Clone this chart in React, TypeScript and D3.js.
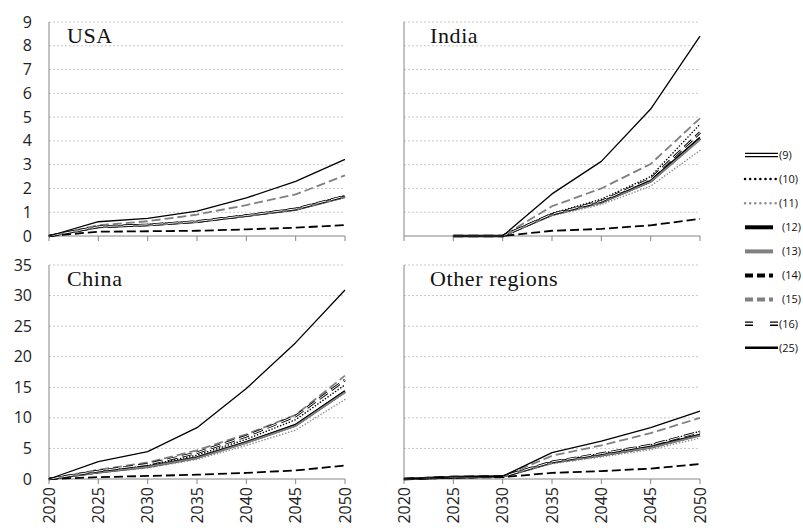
import React from 'react';
import * as d3 from 'd3';

const years = [2020, 2025, 2030, 2035, 2040, 2045, 2050];
const seriesNames = ['(9)', '(10)', '(11)', '(12)', '(13)', '(14)', '(15)', '(16)', '(25)'];
const regionNames = ['USA', 'India', 'China', 'Other regions'];
const topTicks = [0, 1, 2, 3, 4, 5, 6, 7, 8, 9];
const bottomTicks = [0, 5, 10, 15, 20, 25, 30, 35];

// rows follow seriesNames order
const usa = [
  [0, 0.38, 0.46, 0.6, 0.85, 1.12, 1.65],
  [0, 0.4, 0.48, 0.62, 0.87, 1.15, 1.7],
  [0, 0.36, 0.44, 0.58, 0.83, 1.1, 1.62],
  [0, 0.38, 0.46, 0.6, 0.85, 1.13, 1.66],
  [0, 0.37, 0.45, 0.6, 0.85, 1.12, 1.64],
  [0, 0.18, 0.2, 0.22, 0.28, 0.35, 0.46],
  [0, 0.45, 0.62, 0.9, 1.3, 1.75, 2.55],
  [0, 0.39, 0.47, 0.61, 0.86, 1.14, 1.68],
  [0, 0.6, 0.74, 1.05, 1.6, 2.3, 3.22],
];
const india = [
  [null, 0, 0, 0.9, 1.42, 2.3, 4.1],
  [null, 0, 0, 0.95, 1.55, 2.5, 4.7],
  [null, 0, 0, 0.85, 1.32, 2.1, 3.6],
  [null, 0, 0, 0.9, 1.42, 2.32, 4.15],
  [null, 0, 0, 0.88, 1.4, 2.28, 4.05],
  [null, 0, 0, 0.22, 0.3, 0.45, 0.72],
  [null, 0, 0, 1.25, 2.0, 3.03, 4.95],
  [null, 0, 0, 0.92, 1.46, 2.4, 4.35],
  [null, 0, 0, 1.77, 3.14, 5.34, 8.41],
];
const china = [
  [0, 1.1, 2.0, 3.5, 6.0, 8.8, 14.3],
  [0, 1.2, 2.2, 3.9, 6.5, 9.7, 15.4],
  [0, 1.0, 1.8, 3.2, 5.5, 8.0, 13.0],
  [0, 1.1, 2.0, 3.5, 6.0, 8.9, 14.4],
  [0, 1.1, 2.0, 3.4, 5.9, 8.7, 14.2],
  [0, 0.3, 0.5, 0.7, 1.0, 1.4, 2.2],
  [0, 1.5, 2.7, 4.7, 7.3, 10.5, 16.9],
  [0, 1.3, 2.4, 4.3, 7.0, 10.3, 16.2],
  [0, 2.83, 4.47, 8.4, 14.8, 22.3, 30.9],
];
const other = [
  [0, 0.3, 0.4, 2.7, 3.9, 5.2, 7.2],
  [0, 0.32, 0.42, 2.8, 4.2, 5.6, 7.8],
  [0, 0.28, 0.38, 2.5, 3.6, 4.8, 6.7],
  [0, 0.3, 0.4, 2.7, 3.95, 5.25, 7.25],
  [0, 0.3, 0.4, 2.65, 3.85, 5.15, 7.1],
  [0, 0.2, 0.3, 1.0, 1.3, 1.7, 2.45],
  [0, 0.33, 0.43, 3.8, 5.5, 7.5, 10.0],
  [0, 0.31, 0.41, 2.8, 4.15, 5.55, 7.7],
  [0, 0.35, 0.45, 4.3, 6.2, 8.4, 11.1],
];

const GRAY = '#808080';
const AXIS = '#868686';
const LABEL_FONT = '"Open Sans", "Liberation Sans", sans-serif';

// style per series: chart line and legend line
const styles: any[] = [
  { color: '#000', w: 2.6, inner: 1, dash: null },
  { color: '#000', w: 1.5, dash: '0.1,3', cap: 'round' },
  { color: '#8c8c8c', w: 1.5, dash: '0.1,3', cap: 'round' },
  { color: '#000', w: 1.6, dash: null },
  { color: GRAY, w: 1.8, dash: null },
  { color: '#000', w: 1.8, dash: '9,4' },
  { color: GRAY, w: 1.8, dash: '9,4' },
  { color: '#000', w: 2.6, inner: 1, dash: '10,5' },
  { color: '#000', w: 1.3, dash: null },
];

function Panel({ name, data, x0, x1, y0, y1, ticks, showY, showYears, titleX }: any) {
  const max = ticks[ticks.length - 1];
  const x = d3.scaleLinear().domain([2020, 2050]).range([x0, x1]);
  const y = d3.scaleLinear().domain([0, max]).range([y0, y1]);
  const line = d3
    .line<any>()
    .defined((d) => d != null)
    .x((_, i) => x(years[i]))
    .y((d) => y(d));

  return (
    <g>
      {ticks.map((t: number) => (
        <g key={t}>
          {t > 0 && (
            <line x1={x0} x2={x1} y1={y(t)} y2={y(t)} stroke="#c8c8c8" strokeWidth={1} strokeDasharray="2,2" />
          )}
          {showY && (
            <text x={x0 - 17} y={y(t)} dy="0.35em" textAnchor="end" fontFamily={LABEL_FONT} fontSize={16} fill="#222">
              {t}
            </text>
          )}
        </g>
      ))}
      <line x1={x0} x2={x0} y1={y(max)} y2={y(0)} stroke={AXIS} strokeWidth={1} />
      <line x1={x0} x2={x1} y1={y(0)} y2={y(0)} stroke={AXIS} strokeWidth={1} />
      {years.map((yr) => (
        <g key={yr}>
          <line x1={x(yr)} x2={x(yr)} y1={y(0)} y2={y(0) + 5} stroke={AXIS} strokeWidth={1} />
          {showYears && (
            <text
              transform={`translate(${x(yr)},${y(0) + 8}) rotate(-90)`}
              dy="0.35em"
              textAnchor="end"
              fontFamily={LABEL_FONT}
              fontSize={16}
              fill="#222"
            >
              {yr}
            </text>
          )}
        </g>
      ))}
      {data.map((row: any[], i: number) => {
        const s = styles[i];
        const d = line(row) || '';
        return (
          <g key={i}>
            <path
              d={d}
              fill="none"
              stroke={s.color}
              strokeWidth={s.w}
              strokeDasharray={s.dash || undefined}
              strokeLinecap={s.cap || 'butt'}
              strokeLinejoin="round"
            />
            {s.inner && (
              <path d={d} fill="none" stroke="#fff" strokeWidth={s.inner} strokeDasharray={s.dash || undefined} />
            )}
          </g>
        );
      })}
      <text x={titleX} y={y(max) + 20.5} fontFamily='"Liberation Serif", serif' fontSize={22}
        letterSpacing={0.6} fill="#111">
        {name}
      </text>
    </g>
  );
}

function Legend() {
  const ys = d3.range(seriesNames.length).map((i) => 155 + i * 24.1);
  return (
    <g>
      {seriesNames.map((n, i) => {
        const s = styles[i];
        const yy = ys[i];
        const thick = i === 3 || i === 4 || i === 5 || i === 6;
        const w = i === 8 ? 2.6 : thick ? 4 : s.inner ? 4.5 : 2.5;
        const xEnd = thick ? 773 : 778;
        const dash = i === 7 ? '8,17' : s.dash ? (s.cap ? '0.1,5' : '8,4') : undefined;
        return (
          <g key={n}>
            <line x1={745} x2={xEnd} y1={yy} y2={yy} stroke={s.color} strokeWidth={w}
              strokeDasharray={dash} strokeLinecap={s.cap || 'butt'} />
            {s.inner && (
              <line x1={745} x2={xEnd} y1={yy} y2={yy} stroke="#fff" strokeWidth={1.8} strokeDasharray={dash} />
            )}
            <text x={thick ? 782 : 779} y={yy} dy="0.35em" fontFamily={LABEL_FONT} fontSize={11} fill="#111">
              {n}
            </text>
          </g>
        );
      })}
    </g>
  );
}

export default function App() {
  const panels = [
    { data: usa, x0: 49, x1: 345, y0: 236, y1: 22, ticks: topTicks, showY: true, showYears: false, titleX: 67 },
    { data: india, x0: 404, x1: 700, y0: 236, y1: 22, ticks: topTicks, showY: false, showYears: false, titleX: 430 },
    { data: china, x0: 49, x1: 345, y0: 479, y1: 265, ticks: bottomTicks, showY: true, showYears: true, titleX: 67 },
    { data: other, x0: 404, x1: 700, y0: 479, y1: 265, ticks: bottomTicks, showY: false, showYears: true, titleX: 430 },
  ];
  return (
    <svg width={803} height={529} style={{ position: 'absolute', left: 0, top: 0, background: '#fff' }}>
      {panels.map((p, i) => (
        <Panel key={i} name={regionNames[i]} {...p} />
      ))}
      <Legend />
    </svg>
  );
}
